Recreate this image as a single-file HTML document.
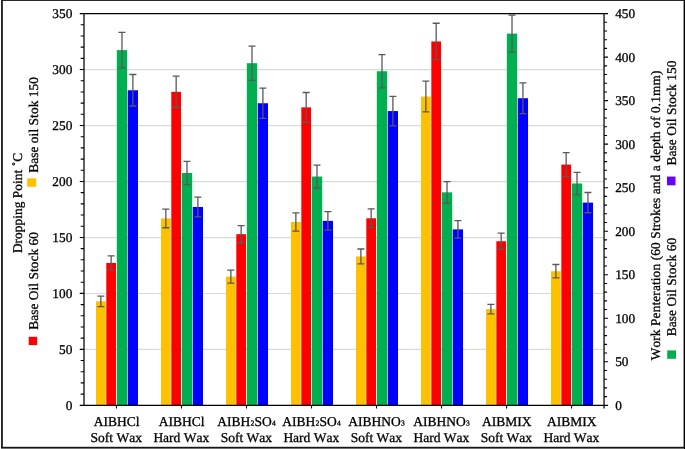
<!DOCTYPE html>
<html lang="en"><head><meta charset="utf-8"><title>Dropping point and work penetration chart</title>
<style>html,body{margin:0;padding:0;background:#fff;}svg{display:block;}text{font-kerning:none;text-rendering:geometricPrecision;font-family:"Liberation Serif","Times New Roman",serif;font-size:13.33px;fill:#000;stroke:#000;stroke-width:0.3px;}.cat text{font-size:13.5px;}</style>
</head><body>
<svg width="685" height="449" viewBox="0 0 685 449">
<rect x="0" y="0" width="685" height="449" fill="#fff"/>
<g stroke="#D9D9D9" stroke-width="1.2">
<line x1="84.00" y1="349.44" x2="604.05" y2="349.44"/>
<line x1="84.00" y1="293.49" x2="604.05" y2="293.49"/>
<line x1="84.00" y1="237.53" x2="604.05" y2="237.53"/>
<line x1="84.00" y1="181.57" x2="604.05" y2="181.57"/>
<line x1="84.00" y1="125.61" x2="604.05" y2="125.61"/>
<line x1="84.00" y1="69.66" x2="604.05" y2="69.66"/>
</g>
<g>
<rect x="96.00" y="301.33" width="9.70" height="103.97" fill="#FFC000"/>
<rect x="106.30" y="262.95" width="9.70" height="142.35" fill="#FF0000"/>
<rect x="116.80" y="50.08" width="10.35" height="355.22" fill="#00B050"/>
<rect x="127.75" y="90.26" width="10.25" height="315.04" fill="#0000FF"/>
<rect x="161.01" y="218.40" width="9.70" height="186.90" fill="#FFC000"/>
<rect x="171.31" y="91.83" width="9.70" height="313.47" fill="#FF0000"/>
<rect x="181.81" y="172.97" width="10.35" height="232.33" fill="#00B050"/>
<rect x="192.76" y="206.99" width="10.25" height="198.31" fill="#0000FF"/>
<rect x="226.01" y="276.60" width="9.70" height="128.70" fill="#FFC000"/>
<rect x="236.31" y="234.18" width="9.70" height="171.12" fill="#FF0000"/>
<rect x="246.81" y="63.18" width="10.35" height="342.12" fill="#00B050"/>
<rect x="257.76" y="103.24" width="10.25" height="302.06" fill="#0000FF"/>
<rect x="291.02" y="221.98" width="9.70" height="183.32" fill="#FFC000"/>
<rect x="301.32" y="107.38" width="9.70" height="297.92" fill="#FF0000"/>
<rect x="311.82" y="176.55" width="10.35" height="228.75" fill="#00B050"/>
<rect x="322.77" y="220.87" width="10.25" height="184.43" fill="#0000FF"/>
<rect x="356.02" y="256.45" width="9.70" height="148.85" fill="#FFC000"/>
<rect x="366.32" y="218.29" width="9.70" height="187.01" fill="#FF0000"/>
<rect x="376.82" y="71.24" width="10.35" height="334.06" fill="#00B050"/>
<rect x="387.77" y="111.08" width="10.25" height="294.22" fill="#0000FF"/>
<rect x="421.03" y="96.53" width="9.70" height="308.77" fill="#FFC000"/>
<rect x="431.33" y="41.47" width="9.70" height="363.83" fill="#FF0000"/>
<rect x="441.83" y="192.33" width="10.35" height="212.97" fill="#00B050"/>
<rect x="452.78" y="229.37" width="10.25" height="175.93" fill="#0000FF"/>
<rect x="486.04" y="309.17" width="9.70" height="96.13" fill="#FFC000"/>
<rect x="496.34" y="241.23" width="9.70" height="164.07" fill="#FF0000"/>
<rect x="506.84" y="33.63" width="10.35" height="371.67" fill="#00B050"/>
<rect x="517.79" y="98.21" width="10.25" height="307.09" fill="#0000FF"/>
<rect x="551.04" y="271.23" width="9.70" height="134.07" fill="#FFC000"/>
<rect x="561.34" y="164.57" width="9.70" height="240.73" fill="#FF0000"/>
<rect x="571.84" y="183.49" width="10.35" height="221.81" fill="#00B050"/>
<rect x="582.79" y="202.62" width="10.25" height="202.68" fill="#0000FF"/>
</g>
<g stroke="#595959" stroke-width="1.3" fill="none">
<path d="M100.85 296.13V306.53M97.35 296.13h7M97.35 306.53h7"/>
<path d="M111.15 255.83V270.06M107.65 255.83h7M107.65 270.06h7"/>
<path d="M121.97 32.32V67.84M118.47 32.32h7M118.47 67.84h7"/>
<path d="M132.88 74.51V106.01M129.38 74.51h7M129.38 106.01h7"/>
<path d="M165.86 209.06V227.75M162.36 209.06h7M162.36 227.75h7"/>
<path d="M176.16 76.15V107.50M172.66 76.15h7M172.66 107.50h7"/>
<path d="M186.98 161.35V184.58M183.48 161.35h7M183.48 184.58h7"/>
<path d="M197.88 197.07V216.90M194.38 197.07h7M194.38 216.90h7"/>
<path d="M230.86 270.16V283.03M227.36 270.16h7M227.36 283.03h7"/>
<path d="M241.16 225.63V242.74M237.66 225.63h7M237.66 242.74h7"/>
<path d="M251.99 46.07V80.28M248.49 46.07h7M248.49 80.28h7"/>
<path d="M262.89 88.14V118.35M259.39 88.14h7M259.39 118.35h7"/>
<path d="M295.87 212.82V231.15M292.37 212.82h7M292.37 231.15h7"/>
<path d="M306.17 92.49V122.28M302.67 92.49h7M302.67 122.28h7"/>
<path d="M316.99 165.11V187.98M313.49 165.11h7M313.49 187.98h7"/>
<path d="M327.89 211.64V230.09M324.39 211.64h7M324.39 230.09h7"/>
<path d="M360.88 249.01V263.90M357.38 249.01h7M357.38 263.90h7"/>
<path d="M371.17 208.94V227.64M367.67 208.94h7M367.67 227.64h7"/>
<path d="M382.00 54.53V87.94M378.50 54.53h7M378.50 87.94h7"/>
<path d="M392.90 96.37V125.79M389.40 96.37h7M389.40 125.79h7"/>
<path d="M425.88 81.09V111.97M422.38 81.09h7M422.38 111.97h7"/>
<path d="M436.18 23.27V59.66M432.68 23.27h7M432.68 59.66h7"/>
<path d="M447.01 181.68V202.98M443.51 181.68h7M443.51 202.98h7"/>
<path d="M457.91 220.57V238.17M454.41 220.57h7M454.41 238.17h7"/>
<path d="M490.89 304.36V313.97M487.39 304.36h7M487.39 313.97h7"/>
<path d="M501.19 233.03V249.44M497.69 233.03h7M497.69 249.44h7"/>
<path d="M512.01 15.05V52.22M508.51 15.05h7M508.51 52.22h7"/>
<path d="M522.91 82.85V113.56M519.41 82.85h7M519.41 113.56h7"/>
<path d="M555.89 264.52V277.93M552.39 264.52h7M552.39 277.93h7"/>
<path d="M566.19 152.54V176.61M562.69 152.54h7M562.69 176.61h7"/>
<path d="M577.02 172.40V194.58M573.52 172.40h7M573.52 194.58h7"/>
<path d="M587.92 192.49V212.76M584.42 192.49h7M584.42 212.76h7"/>
</g>
<g stroke="#000" stroke-width="1.25" fill="none">
<path d="M79.80 13.60H608.05"/>
<path d="M79.80 405.30H608.05"/>
<path d="M84.00 13.60V405.30"/>
<path d="M604.05 13.60V408.50"/>
</g>
<g stroke="#000" stroke-width="1.1" fill="none">
<path d="M80.70 394.11h3.30M80.70 382.92h3.30M80.70 371.73h3.30M80.70 360.53h3.30M79.80 349.34h4.20M80.70 338.15h3.30M80.70 326.96h3.30M80.70 315.77h3.30M80.70 304.58h3.30M79.80 293.39h4.20M80.70 282.19h3.30M80.70 271.00h3.30M80.70 259.81h3.30M80.70 248.62h3.30M79.80 237.43h4.20M80.70 226.24h3.30M80.70 215.05h3.30M80.70 203.85h3.30M80.70 192.66h3.30M79.80 181.47h4.20M80.70 170.28h3.30M80.70 159.09h3.30M80.70 147.90h3.30M80.70 136.71h3.30M79.80 125.51h4.20M80.70 114.32h3.30M80.70 103.13h3.30M80.70 91.94h3.30M80.70 80.75h3.30M79.80 69.56h4.20M80.70 58.37h3.30M80.70 47.17h3.30M80.70 35.98h3.30M80.70 24.79h3.30"/>
<path d="M604.05 396.60h3.00M604.05 387.89h3.00M604.05 379.19h3.00M604.05 370.48h3.00M604.05 361.78h4.00M604.05 353.07h3.00M604.05 344.37h3.00M604.05 335.66h3.00M604.05 326.96h3.00M604.05 318.26h4.00M604.05 309.55h3.00M604.05 300.85h3.00M604.05 292.14h3.00M604.05 283.44h3.00M604.05 274.73h4.00M604.05 266.03h3.00M604.05 257.32h3.00M604.05 248.62h3.00M604.05 239.92h3.00M604.05 231.21h4.00M604.05 222.51h3.00M604.05 213.80h3.00M604.05 205.10h3.00M604.05 196.39h3.00M604.05 187.69h4.00M604.05 178.98h3.00M604.05 170.28h3.00M604.05 161.58h3.00M604.05 152.87h3.00M604.05 144.17h4.00M604.05 135.46h3.00M604.05 126.76h3.00M604.05 118.05h3.00M604.05 109.35h3.00M604.05 100.64h4.00M604.05 91.94h3.00M604.05 83.24h3.00M604.05 74.53h3.00M604.05 65.83h3.00M604.05 57.12h4.00M604.05 48.42h3.00M604.05 39.71h3.00M604.05 31.01h3.00M604.05 22.30h3.00"/>
<path d="M116.50 405.30v3.2M181.51 405.30v3.2M246.52 405.30v3.2M311.52 405.30v3.2M376.53 405.30v3.2M441.53 405.30v3.2M506.54 405.30v3.2M571.55 405.30v3.2"/>
</g>
<g text-anchor="end">
<text x="72.3" y="409.80">0</text>
<text x="72.3" y="353.84">50</text>
<text x="72.3" y="297.89">100</text>
<text x="72.3" y="241.93">150</text>
<text x="72.3" y="185.97">200</text>
<text x="72.3" y="130.01">250</text>
<text x="72.3" y="74.06">300</text>
<text x="72.3" y="18.10">350</text>
</g>
<g text-anchor="start">
<text x="615.2" y="409.80">0</text>
<text x="615.2" y="366.28">50</text>
<text x="615.2" y="322.76">100</text>
<text x="615.2" y="279.23">150</text>
<text x="615.2" y="235.71">200</text>
<text x="615.2" y="192.19">250</text>
<text x="615.2" y="148.67">300</text>
<text x="615.2" y="105.14">350</text>
<text x="615.2" y="61.62">400</text>
<text x="615.2" y="18.10">450</text>
</g>
<g text-anchor="middle" class="cat">
<text x="116.70" y="425.7">AIBHCl</text>
<text x="116.30" y="441.6">Soft Wax</text>
<text x="181.71" y="425.7">AIBHCl</text>
<text x="181.31" y="441.6">Hard Wax</text>
<text x="246.72" y="425.7">AIBH<tspan dy="-2.6" font-size="12.4">₂</tspan><tspan dy="2.6" font-size="0.1"> </tspan>SO<tspan dy="-2.6" font-size="12.4">₄</tspan><tspan dy="2.6" font-size="0.1"> </tspan></text>
<text x="246.32" y="441.6">Soft Wax</text>
<text x="311.72" y="425.7">AIBH<tspan dy="-2.6" font-size="12.4">₂</tspan><tspan dy="2.6" font-size="0.1"> </tspan>SO<tspan dy="-2.6" font-size="12.4">₄</tspan><tspan dy="2.6" font-size="0.1"> </tspan></text>
<text x="311.32" y="441.6">Hard Wax</text>
<text x="376.73" y="425.7">AIBHNO<tspan dy="-2.6" font-size="12.4">₃</tspan><tspan dy="2.6" font-size="0.1"> </tspan></text>
<text x="376.33" y="441.6">Soft Wax</text>
<text x="441.73" y="425.7">AIBHNO<tspan dy="-2.6" font-size="12.4">₃</tspan><tspan dy="2.6" font-size="0.1"> </tspan></text>
<text x="441.33" y="441.6">Hard Wax</text>
<text x="506.74" y="425.7">AIBMIX</text>
<text x="506.34" y="441.6">Soft Wax</text>
<text x="571.75" y="425.7">AIBMIX</text>
<text x="571.35" y="441.6">Hard Wax</text>
</g>
<text transform="translate(21.60 253.10) rotate(-90)" textLength="100.20" lengthAdjust="spacing">Dropping Point ˚C</text>
<text transform="translate(38.00 172.80) rotate(-90)" textLength="95.80" lengthAdjust="spacing">Base oil Stok 150</text>
<text transform="translate(38.00 329.80) rotate(-90)" textLength="97.80" lengthAdjust="spacing">Base Oil Stock 60</text>
<text transform="translate(660.40 360.30) rotate(-90)" textLength="289.80" lengthAdjust="spacing">Work Penteration (60 Strokes and a depth of 0.1mm)</text>
<text transform="translate(675.90 165.50) rotate(-90)" textLength="104.90" lengthAdjust="spacing">Base Oil Stock 150</text>
<text transform="translate(675.90 336.20) rotate(-90)" textLength="98.30" lengthAdjust="spacing">Base Oil Stock 60</text>
<rect x="27.2" y="178.3" width="9" height="8.5" fill="#FFC000"/>
<rect x="28.7" y="336.8" width="8.5" height="8.3" fill="#FF0000"/>
<rect x="667.0" y="176.6" width="8.5" height="8.7" fill="#6600FF"/>
<rect x="667.2" y="350.4" width="8.8" height="8.4" fill="#00B050"/>
<rect x="1" y="0" width="684" height="0.95" fill="#1c1c1c"/>
<rect x="1" y="0" width="1.9" height="448" fill="#262626"/>
<rect x="683.6" y="0" width="1.4" height="449" fill="#000"/>
<rect x="1" y="446.8" width="684" height="1.2" fill="#161616"/>
<rect x="1" y="448" width="683" height="1" fill="#707070"/>
</svg>
</body></html>
